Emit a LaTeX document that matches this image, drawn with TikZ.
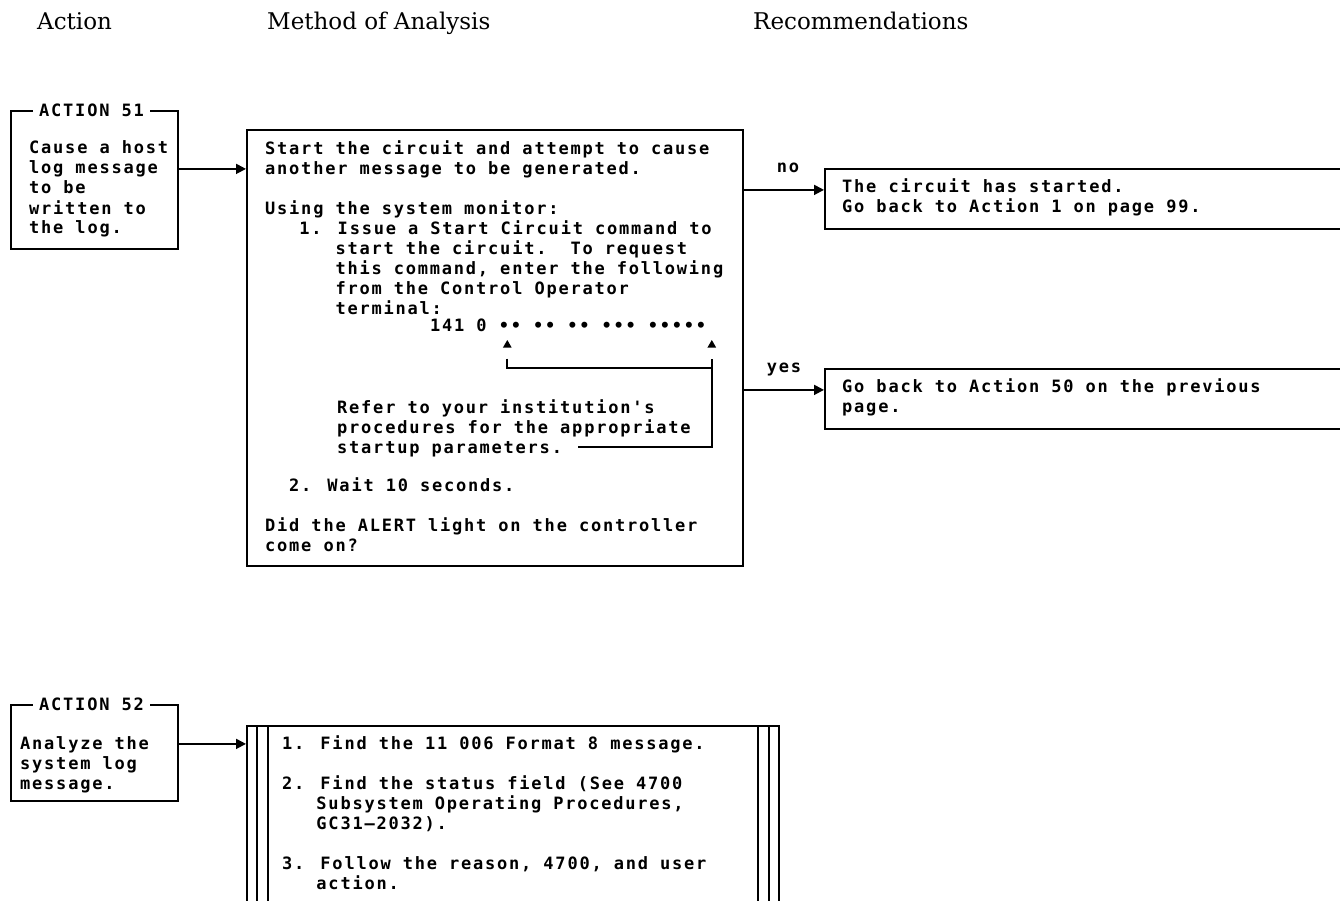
\documentclass[tikz,border=0pt]{standalone}
\usepackage{fontspec}
\setmainfont{DejaVu Serif}
\newfontfamily\printfont{DejaVu Sans Mono}[LetterSpace=10.5]
\usetikzlibrary{positioning,arrows.meta,shapes.geometric}
\newcommand\pad[1]{\hphantom{#1}}

\begin{document}
\begin{tikzpicture}[x=1pt, y=-1pt,
  font=\fontsize{17pt}{20pt}\printfont\bfseries,
  heading/.style={font=\fontsize{23pt}{26pt}\selectfont, anchor=base west, inner sep=0pt},
  frame/.style={draw, line width=1.8pt, anchor=north west, inner sep=0pt},
  title/.style={fill=white, anchor=west, inner xsep=6pt, inner ysep=0pt},
  printout/.style={align=left, anchor=base west, inner sep=0pt},
  branch/.style={anchor=base, yshift=17pt, inner sep=0pt},
  flow/.style={-{Triangle[length=10pt,width=10pt]}, line width=1.8pt},
  bracket/.style={line width=1.8pt},
  tick/.style={regular polygon, regular polygon sides=3, fill, inner sep=0pt,
    minimum size=10pt}
]
\useasboundingbox (0,0) rectangle (1340,901);
\clip (0,0) rectangle (1340,901);

\node[heading] (hdaction) at (37,30) {Action};
\node[heading] (hdmethod) at (267,30) {Method of Analysis};
\node[heading] (hdrecom) at (753,30) {Recommendations};

% action 51
\node[frame, minimum width=167pt, minimum height=138pt] (act51) at (10,110) {};
\node[title] (act51title) at (33,110) {ACTION 51};
\node[printout] (act51txt) at (29,234) {Cause a host\\log message\\to be\\written to\\the log.};

\node[frame, minimum width=496pt, minimum height=436pt] (method) at (246,129) {};
\node[printout] (steps) at (265,314) {Start the circuit and attempt to cause\\
another message to be generated.\\[20pt]
Using the system monitor:\\
\pad{000}1. Issue a Start Circuit command to\\
\pad{000000}start the circuit.\ \ To request\\
\pad{000000}this command, enter the following\\
\pad{000000}from the Control Operator\\
\pad{000000}terminal:};
\node[printout] (parm) at (430,331) {141 0 •• •• •• ••• •••••};
\node[tick] (tickL) at (507.3,345) {};
\node[tick] (tickR) at (711.8,345) {};
\node[printout] (note) at (337,453) {Refer to your institution's\\procedures for the appropriate\\startup parameters.};
\node[printout] (wait) at (289,491) {2. Wait 10 seconds.};
\node[printout] (ask) at (265,551) {Did the ALERT light on the controller\\come on?};

\coordinate (noteend) at (578,447);
\coordinate (joint) at ([yshift=-20pt]tickR.south);
\draw[bracket] (noteend) -| ([yshift=-11pt]tickR.south);
\draw[bracket] ([yshift=-11pt]tickL.south) |- (joint);

\coordinate (a51out) at ([yshift=11pt]act51.east);
\draw[flow] (a51out) -- (a51out -| method.west);

\node[frame, minimum width=540pt, minimum height=60pt] (started) at (824,168) {};
\node[printout] (startedtxt) at (842,213) {The circuit has started.\\Go back to Action 1 on page 99.};
\node[frame, minimum width=540pt, minimum height=60pt] (goback) at (824,368) {};
\node[printout] (gobacktxt) at (842,412) {Go back to Action 50 on the previous\\page.};

\coordinate (noin) at ([yshift=9pt]started.west);
\coordinate (yesin) at ([yshift=9pt]goback.west);
\draw[flow] (method.east |- noin) -- node[branch, pos=0.55] {no} (noin);
\draw[flow] (method.east |- yesin) -- node[branch, pos=0.5] {yes} (yesin);

% action 52
\node[frame, minimum width=167pt, minimum height=96pt] (act52) at (10,704) {};
\node[title] (act52title) at (33,704) {ACTION 52};
\node[printout] (act52txt) at (20,789) {Analyze the\\system log\\message.};

\node[frame, minimum width=532pt, minimum height=200pt] (check) at (246,725) {};
\foreach \d in {11,22} {
  \draw[bracket] ([xshift=\d pt]check.north west) -- ([xshift=\d pt]check.south west);
  \draw[bracket] ([xshift=-\d pt]check.north east) -- ([xshift=-\d pt]check.south east);
}
\node[printout] (checktxt) at (282,889) {1. Find the 11 006 Format 8 message.\\[20pt]
2. Find the status field (See 4700\\
\pad{000}Subsystem Operating Procedures,\\
\pad{000}GC31–2032).\\[20pt]
3. Follow the reason, 4700, and user\\
\pad{000}action.};

\coordinate (a52out) at ([yshift=9pt]act52.east);
\draw[flow] (a52out) -- (a52out -| check.west);

\end{tikzpicture}
\end{document}
